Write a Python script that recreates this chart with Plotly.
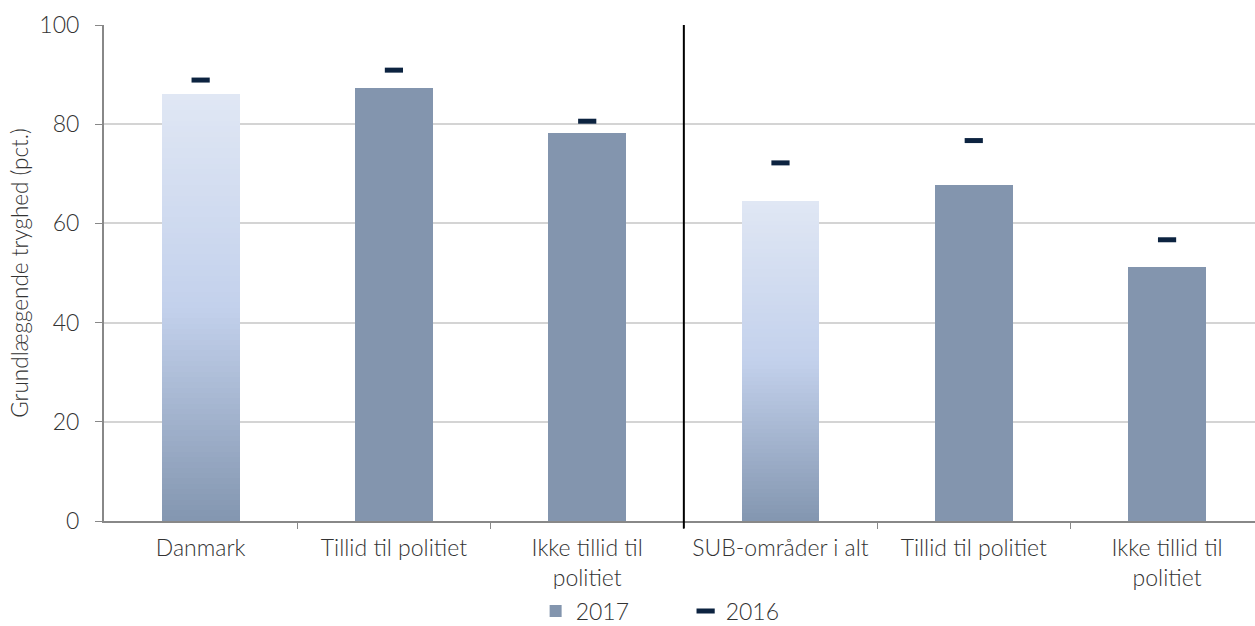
import plotly.graph_objects as go

# ---- data ----
categories = ["Danmark", "Tillid til politiet", "Ikke tillid til<br>politiet",
              "SUB-områder i alt", "Tillid til politiet", "Ikke tillid til<br>politiet"]
values_2017 = [86.0, 87.4, 78.2, 64.5, 67.7, 51.2]
values_2016 = [88.9, 90.9, 80.6, 72.2, 76.7, 56.7]
gradient_bars = [0, 3]          # totals drawn with gradient fill
group_split = 2.5               # separator between the two groups
y_ticks = [0, 20, 40, 60, 80, 100]

SOLID = "#8395ae"
DASH = "#0c2340"
FONT = "Lato"
TXT = "#333333"
BAR_W = 0.403


def hex2rgb(h):
    h = h.lstrip("#")
    return tuple(int(h[i:i + 2], 16) for i in (0, 2, 4))


stops = [(0.0, hex2rgb("#8396b0")), (0.5, hex2rgb("#c3d1ec")), (1.0, hex2rgb("#e0e7f4"))]


def grad(t):
    for (t0, c0), (t1, c1) in zip(stops[:-1], stops[1:]):
        if t <= t1:
            f = (t - t0) / (t1 - t0)
            return "rgb(%d,%d,%d)" % tuple(round(a + (b - a) * f) for a, b in zip(c0, c1))
    return "rgb(%d,%d,%d)" % stops[-1][1]


xs = list(range(len(categories)))
N = 80

fig = go.Figure()

solid_idx = [i for i in xs if i not in gradient_bars]
fig.add_trace(go.Bar(
    x=[xs[i] for i in solid_idx], y=[values_2017[i] for i in solid_idx],
    name="2017", marker=dict(color=SOLID, line=dict(width=0)),
    width=BAR_W, hoverinfo="skip"))

gx, gy, gb, gc = [], [], [], []
for i in gradient_bars:
    v = values_2017[i]
    for k in range(N):
        gx.append(xs[i])
        gy.append(v / N * 1.02 if k < N - 1 else v / N)
        gb.append(v * k / N)
        gc.append(grad((k + 0.5) / N))
fig.add_trace(go.Bar(
    x=gx, y=gy, base=gb, marker=dict(color=gc, line=dict(width=0)),
    width=BAR_W, showlegend=False, hoverinfo="skip"))

fig.add_trace(go.Scatter(
    x=xs, y=values_2016, mode="markers", name="2016",
    marker=dict(symbol="line-ew", size=13, color=DASH,
                line=dict(color=DASH, width=5))))

fig.add_shape(type="line", xref="x", yref="paper",
              x0=group_split, x1=group_split, y0=-0.015, y1=1,
              line=dict(color="black", width=2))

fig.update_layout(
    width=1255, height=626,
    margin=dict(l=104, r=0, t=25, b=105, autoexpand=False),
    plot_bgcolor="white", paper_bgcolor="white",
    barmode="overlay", bargap=0,
    font=dict(family=FONT, size=22, color=TXT, weight=300),
    showlegend=True,
    legend=dict(orientation="h", x=0.375, xanchor="left",
                yref="container", y=0.024, yanchor="middle",
                font=dict(size=23, color=TXT, weight=300), itemwidth=30,
                entrywidth=105, entrywidthmode="pixels",
                traceorder="normal"),
    xaxis=dict(range=[-0.5, 5.455], tickmode="array", tickvals=xs, ticktext=categories,
               ticks="", showgrid=False, zeroline=False, automargin=False,
               showline=True, linecolor="#888888", linewidth=2,
               ticklabelstandoff=5,
               tickfont=dict(size=23, color=TXT, weight=300),
               minor=dict(tickmode="array", tickvals=[x + 0.5 for x in xs[:-1]],
                          ticks="outside", ticklen=6, tickcolor="#888888",
                          tickwidth=1, showgrid=False)),
    yaxis=dict(range=[0, 100], tickmode="array", tickvals=y_ticks, automargin=False,
               showgrid=True, gridcolor="#d4d4d4", gridwidth=1.5, zeroline=False,
               showline=True, linecolor="#888888", linewidth=2,
               ticks="outside", ticklen=7, tickcolor="#888888",
               ticklabelstandoff=11,
               tickfont=dict(size=23, color=TXT, weight=300),
               title=dict(text="Grundlæggende tryghed (pct.)",
                          font=dict(size=22.5, color=TXT, weight=300), standoff=4)),
)

fig.write_html("out.html", config={"displayModeBar": False},
               post_script="document.body.style.margin='0';document.body.style.overflow='hidden';")
